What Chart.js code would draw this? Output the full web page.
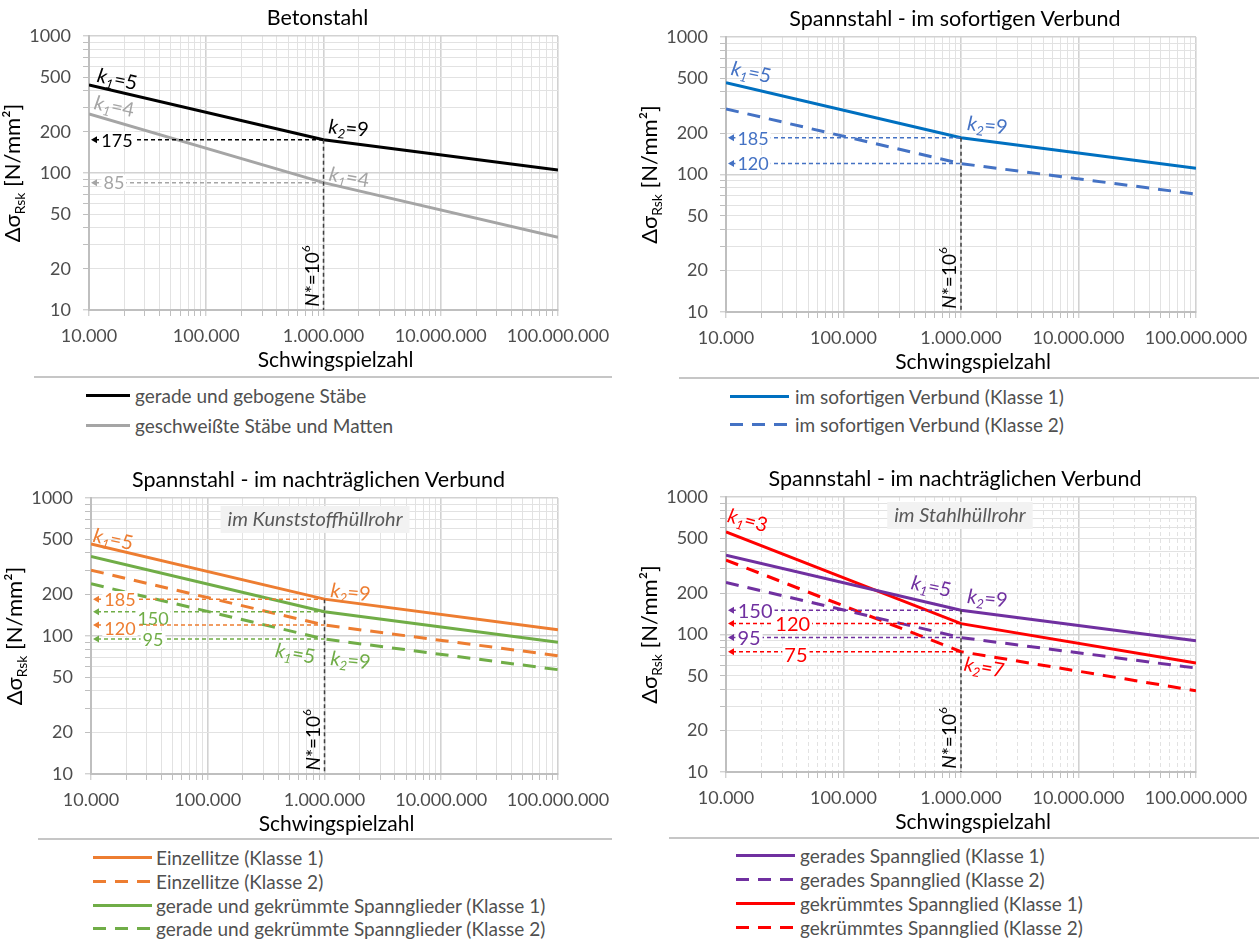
<!DOCTYPE html>
<html><head><meta charset="utf-8">
<script src="https://cdn.jsdelivr.net/npm/chart.js@4.4.1/dist/chart.umd.min.js"></script>
<style>
html,body{margin:0;padding:0;background:#fff}
body{width:1259px;height:941px;position:relative;overflow:hidden;font-family:Lato,"Open Sans",sans-serif}
canvas{position:absolute}
.title{position:absolute;transform:translate(-50%,-50%);font-size:21.5px;color:#000;white-space:nowrap}
.sep{position:absolute;height:2px;background:#c6c6c6}
.leg{position:absolute;display:flex;align-items:center;transform:translateY(-50%);font-size:19px;color:#505050;white-space:nowrap}
</style></head><body>
<script>
// ---------- data ----------
const xTickValues = [1e4, 1e5, 1e6, 1e7, 1e8];
const xTickLabels = ['10.000', '100.000', '1.000.000', '10.000.000', '100.000.000'];
const yTickValues = [10, 20, 50, 100, 200, 500, 1000];
const yTickLabels = ['10', '20', '50', '100', '200', '500', '1000'];
const cycles = [1e4, 1e6, 1e8];          // Schwingspielzahl N
const kneeN = 1e6;                       // N*

// Betonstahl
const betonGerade = [440, 175, 105];
const betonGeschweisst = [270, 85, 34];
const betonRefs = [175, 85];
// Spannstahl - im sofortigen Verbund
const sofortK1 = [465, 185, 111];
const sofortK2 = [300, 120, 72];
const sofortRefs = [185, 120];
// Spannstahl - nachträglicher Verbund, Kunststoffhüllrohr
const einzelK1 = [465, 185, 111];
const einzelK2 = [300, 120, 72];
const geradeGekK1 = [377, 150, 90];
const geradeGekK2 = [239, 95, 57];
const kunststoffRefs = [185, 150, 120, 95];
// Spannstahl - nachträglicher Verbund, Stahlhüllrohr
const geradesK1 = [377, 150, 90];
const geradesK2 = [239, 95, 57];
const gekruemmtK1 = [557, 120, 62];
const gekruemmtK2 = [348, 75, 39];
const stahlRefs = [150, 120, 95, 75];

// ---------- layout / styles ----------
const F = 'Lato, "Open Sans", sans-serif';
const C = {black:'#000000', gray:'#a5a5a5', blue1:'#0070c0', blue2:'#4472c4', orange:'#ed7d31', green:'#70ad47', purple:'#7030a0', red:'#ff0000'};
const DASH = [13, 9];

const panels = [
 {title:'Betonstahl', x0:0, y0:0, w:630, h:374, pl:89, pr:558, pt:36, pb:310, kneeTop:175,
  series:[{label:'gerade und gebogene Stäbe', v:betonGerade, c:C.black, d:[]},
          {label:'geschweißte Stäbe und Matten', v:betonGeschweisst, c:C.gray, d:[]}],
  refs:[{v:betonRefs[0], c:C.black, lx:1.73e4, dy:0}, {v:betonRefs[1], c:C.gray, lx:1.63e4, dy:0}], refSize:18,
  kl:[{s:'1', t:'=5', x:1.7e4, y:485, c:C.black, r:12}, {s:'1', t:'=4', x:1.6e4, y:308, c:C.gray, r:12},
      {s:'2', t:'=9', x:1.62e6, y:213, c:C.black, r:5}, {s:'1', t:'=4', x:1.62e6, y:93.5, c:C.gray, r:10}],
  leg:{sx1:34, sx2:612, sy:377, x:86, w:44, tx:135, ys:[395,425]}, minorDash:null},
 {title:'Spannstahl - im sofortigen Verbund', x0:630, y0:0, w:629, h:374, pl:726, pr:1196, pt:37, pb:312, kneeTop:185,
  series:[{label:'im sofortigen Verbund (Klasse 1)', v:sofortK1, c:C.blue1, d:[]},
          {label:'im sofortigen Verbund (Klasse 2)', v:sofortK2, c:C.blue2, d:DASH}],
  refs:[{v:sofortRefs[0], c:C.blue2, lx:1.7e4, dy:0}, {v:sofortRefs[1], c:C.blue2, lx:1.7e4, dy:0}], refSize:18,
  kl:[{s:'1', t:'=5', x:1.6e4, y:556, c:C.blue2, r:12}, {s:'2', t:'=9', x:1.66e6, y:229, c:C.blue2, r:6}],
  leg:{sx1:679, sx2:1259, sy:378, x:730, w:59, tx:795, ys:[396,424]}, minorDash:null},
 {title:'Spannstahl - im nachträglichen Verbund', x0:0, y0:455, w:630, h:382, pl:91, pr:558, pt:498, pb:774, kneeTop:185,
  box:{t:'im Kunststoffhüllrohr', x:8.3e5, y:705},
  series:[{label:'Einzellitze (Klasse 1)', v:einzelK1, c:C.orange, d:[]},
          {label:'Einzellitze (Klasse 2)', v:einzelK2, c:C.orange, d:DASH},
          {label:'gerade und gekrümmte Spannglieder (Klasse 1)', v:geradeGekK1, c:C.green, d:[]},
          {label:'gerade und gekrümmte Spannglieder (Klasse 2)', v:geradeGekK2, c:C.green, d:DASH}],
  refs:[{v:kunststoffRefs[0], c:C.orange, lx:1.77e4, dy:0}, {v:kunststoffRefs[1], c:C.green, lx:3.4e4, dy:6},
        {v:kunststoffRefs[2], c:C.orange, lx:1.77e4, dy:3}, {v:kunststoffRefs[3], c:C.green, lx:3.4e4, dy:0}], refSize:18,
  kl:[{s:'1', t:'=5', x:1.51e4, y:505, c:C.orange, r:12}, {s:'2', t:'=9', x:1.65e6, y:208, c:C.orange, r:6},
      {s:'1', t:'=5', x:5.5e5, y:75, c:C.green, r:10}, {s:'2', t:'=9', x:1.65e6, y:67, c:C.green, r:6}],
  leg:{sx1:38, sx2:612, sy:839, x:93, w:59, tx:156, ys:[857,881,905,928]}, minorDash:null},
 {title:'Spannstahl - im nachträglichen Verbund', x0:630, y0:455, w:629, h:382, pl:726, pr:1196, pt:497, pb:772, kneeTop:150,
  box:{t:'im Stahlhüllrohr', x:9.8e5, y:740},
  series:[{label:'gerades Spannglied (Klasse 1)', v:geradesK1, c:C.purple, d:[]},
          {label:'gerades Spannglied (Klasse 2)', v:geradesK2, c:C.purple, d:DASH},
          {label:'gekrümmtes Spannglied (Klasse 1)', v:gekruemmtK1, c:C.red, d:[]},
          {label:'gekrümmtes Spannglied (Klasse 2)', v:gekruemmtK2, c:C.red, d:DASH}],
  refs:[{v:stahlRefs[0], c:C.purple, lx:1.77e4, dy:0}, {v:stahlRefs[1], c:C.red, lx:3.7e4, dy:0},
        {v:stahlRefs[2], c:C.purple, lx:1.57e4, dy:0}, {v:stahlRefs[3], c:C.red, lx:3.94e4, dy:3}], refSize:20,
  kl:[{s:'1', t:'=3', x:1.48e4, y:680, c:C.red, r:15}, {s:'1', t:'=5', x:5.45e5, y:225, c:C.purple, r:12},
      {s:'2', t:'=9', x:1.66e6, y:184, c:C.purple, r:6}, {s:'2', t:'=7', x:1.54e6, y:58, c:C.red, r:10}],
  leg:{sx1:669, sx2:1259, sy:838, x:736, w:59, tx:800, ys:[855,879,903,927]}, minorDash:[4,3]}
];

// ---------- helpers ----------
function isMajor(v){ const l = Math.log10(v); return Math.abs(l - Math.round(l)) < 1e-9; }
function logGrid(min, max){
  const out = []; const e0 = Math.round(Math.log10(min)), e1 = Math.round(Math.log10(max));
  for (let e = e0; e < e1; e++) for (let m = 1; m < 10; m++) out.push(m * Math.pow(10, e));
  out.push(max); return out;
}
function labelFor(v, vals, labs){ for (let i = 0; i < vals.length; i++) if (Math.abs(vals[i] - v) / vals[i] < 1e-9) return labs[i]; return ''; }
function rich(ctx, parts, x, y, rot, align){
  ctx.save(); ctx.translate(x, y); ctx.rotate(rot * Math.PI / 180);
  let w = 0;
  parts.forEach(p => { ctx.font = (p.i ? 'italic ' : '') + p.z + 'px ' + F; p.w = ctx.measureText(p.t).width; w += p.w; });
  let cx = align === 'center' ? -w / 2 : 0;
  ctx.textAlign = 'left'; ctx.textBaseline = 'alphabetic';
  parts.forEach(p => { ctx.font = (p.i ? 'italic ' : '') + p.z + 'px ' + F; ctx.fillStyle = p.c; ctx.fillText(p.t, cx, p.dy || 0); cx += p.w; });
  ctx.restore();
}
function scaleOpts(min, max, vals, labs, minorDash, isX, P){
  return {
    type:'logarithmic', min:min, max:max,
    afterBuildTicks: s => { s.ticks = logGrid(min, max).map(v => ({value:v})); },
    afterFit: s => { if (isX) s.height = (P.y0 + P.h) - P.pb; else s.width = P.pl - P.x0; },
    ticks:{autoSkip:false, maxRotation:0, minRotation:0, padding: isX ? 9 : 12, color:'#4d4d4d',
           font:{family:F, size:18}, callback: v => labelFor(v, vals, labs)},
    grid:{color: c => (c.tick && isMajor(c.tick.value)) ? '#d2d2d2' : '#e2e2e2',
          lineWidth: c => (c.tick && isMajor(c.tick.value)) ? 1.6 : 1,
          tickLength:6, tickColor:'#bfbfbf', tickWidth:1},
    border:{color:'#bfbfbf', width:2,
            dash: c => (isX && minorDash && c.tick && !isMajor(c.tick.value)) ? minorDash : []}
  };
}

// ---------- build ----------
panels.forEach(P => {
  const cv = document.createElement('canvas');
  cv.width = P.w; cv.height = P.h;
  cv.style.left = P.x0 + 'px'; cv.style.top = P.y0 + 'px';
  cv.style.width = P.w + 'px'; cv.style.height = P.h + 'px';
  document.body.appendChild(cv);

  const annot = {
    id:'annot',
    afterDatasetsDraw(chart){
      const {ctx, chartArea:ca} = chart; const xs = chart.scales.x, ys = chart.scales.y;
      const X = v => xs.getPixelForValue(v), Y = v => ys.getPixelForValue(v);
      ctx.save();
      // N* line
      const kx = X(kneeN);
      ctx.strokeStyle = '#404040'; ctx.lineWidth = 1.5; ctx.setLineDash([4,3]);
      ctx.beginPath(); ctx.moveTo(kx, Y(P.kneeTop)); ctx.lineTo(kx, ca.bottom); ctx.stroke();
      // reference lines
      P.refs.forEach(r => {
        const yy = Y(r.v);
        ctx.strokeStyle = r.c; ctx.lineWidth = 1.5; ctx.setLineDash([4,3]);
        ctx.beginPath(); ctx.moveTo(ca.left + 6, yy); ctx.lineTo(kx, yy); ctx.stroke();
        ctx.setLineDash([]); ctx.fillStyle = r.c;
        ctx.beginPath(); ctx.moveTo(ca.left + 2, yy); ctx.lineTo(ca.left + 8, yy - 3.5); ctx.lineTo(ca.left + 8, yy + 3.5); ctx.closePath(); ctx.fill();
        ctx.font = P.refSize + 'px ' + F;
        const t = String(r.v); const tw = ctx.measureText(t).width; const lx = X(r.lx); const ly = yy + r.dy;
        ctx.fillStyle = '#ffffff'; ctx.fillRect(lx - tw/2 - 2, ly - P.refSize*0.45, tw + 4, P.refSize*0.9);
        ctx.fillStyle = r.c; ctx.textAlign = 'center'; ctx.textBaseline = 'middle'; ctx.fillText(t, lx, ly + 1);
      });
      // k labels
      P.kl.forEach(k => {
        rich(ctx, [{t:'k', z:20, i:true, c:k.c}, {t:k.s, z:13, i:true, c:k.c, dy:4}, {t:k.t, z:20, c:k.c}],
             X(k.x), Y(k.y) + 7, k.r, 'center');
      });
      // N* label (rotated)
      rich(ctx, [{t:'N', z:19, i:true, c:'#000'}, {t:'*=10', z:19, c:'#000'}, {t:'6', z:12, c:'#000', dy:-9}],
           kx - 5, Y(17.7), -90, 'center');
      // box label
      if (P.box){
        ctx.font = 'italic 20px ' + F;
        const tw = ctx.measureText(P.box.t).width; const bx = X(P.box.x), by = Y(P.box.y);
        ctx.fillStyle = '#f2f2f2'; ctx.fillRect(bx - tw/2 - 7, by - 13, tw + 14, 27);
        ctx.fillStyle = '#595959'; ctx.textAlign = 'center'; ctx.textBaseline = 'middle'; ctx.fillText(P.box.t, bx, by + 1);
      }
      // axis titles
      const midY = (ca.top + ca.bottom) / 2;
      rich(ctx, [{t:'Δσ', z:22, c:'#000'}, {t:'Rsk', z:14, c:'#000', dy:5}, {t:' [N/mm²]', z:22, c:'#000'}],
           ca.left - 69, midY, -90, 'center');
      ctx.font = '21px ' + F; ctx.fillStyle = '#000'; ctx.textAlign = 'center'; ctx.textBaseline = 'middle';
      ctx.fillText('Schwingspielzahl', (ca.left + ca.right)/2 + 12, ca.bottom + 50);
      ctx.restore();
    }
  };

  new Chart(cv, {
    type:'line',
    data:{datasets: P.series.map(s => ({
      label:s.label, data: cycles.map((n, i) => ({x:n, y:s.v[i]})),
      borderColor:s.c, backgroundColor:s.c, borderWidth:3, borderDash:s.d, borderCapStyle:'butt',
      pointRadius:0, tension:0, fill:false}))},
    options:{
      responsive:false, animation:false, devicePixelRatio:1,
      layout:{padding:{left:0, top:P.pt - P.y0, right:(P.x0 + P.w) - P.pr, bottom:0}},
      plugins:{legend:{display:false}, tooltip:{enabled:false}, title:{display:false}},
      scales:{
        x: scaleOpts(1e4, 1e8, xTickValues, xTickLabels, P.minorDash, true, P),
        y: scaleOpts(10, 1000, yTickValues, yTickLabels, P.minorDash, false, P)
      }
    },
    plugins:[annot]
  });

  // title
  const t = document.createElement('div'); t.className = 'title'; t.textContent = P.title;
  t.style.left = ((P.pl + P.pr)/2 - 6) + 'px'; t.style.top = (P.pt - 19) + 'px';
  document.body.appendChild(t);
  // legend separator
  const sep = document.createElement('div'); sep.className = 'sep';
  sep.style.left = P.leg.sx1 + 'px'; sep.style.width = (P.leg.sx2 - P.leg.sx1) + 'px'; sep.style.top = (P.leg.sy - 1) + 'px';
  document.body.appendChild(sep);
  // legend items
  P.series.forEach((s, i) => {
    const d = document.createElement('div'); d.className = 'leg';
    d.style.left = P.leg.x + 'px'; d.style.top = P.leg.ys[i] + 'px';
    const dash = s.d.length ? ' stroke-dasharray="' + s.d.join(' ') + '"' : '';
    d.innerHTML = '<svg width="' + P.leg.w + '" height="6" style="margin-right:' + (P.leg.tx - P.leg.x - P.leg.w) + 'px">' +
      '<line x1="0" y1="3" x2="' + P.leg.w + '" y2="3" stroke="' + s.c + '" stroke-width="3"' + dash + '/></svg><span></span>';
    d.querySelector('span').textContent = s.label;
    document.body.appendChild(d);
  });
});
</script>
</body></html>
